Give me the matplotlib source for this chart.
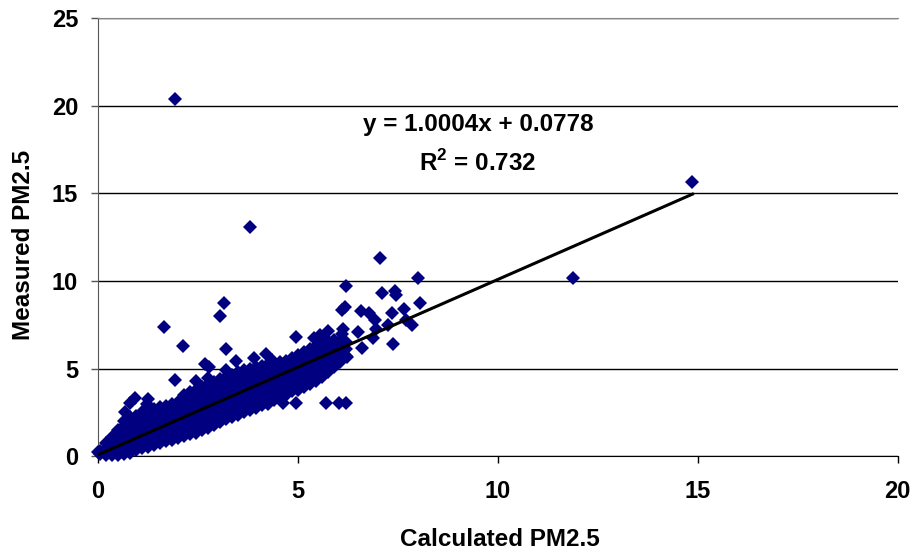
import numpy as np
import matplotlib.pyplot as plt

plt.rcParams['font.family'] = ['Liberation Sans', 'DejaVu Sans']
plt.rcParams['font.weight'] = 'bold'
plt.rcParams['mathtext.fontset'] = 'custom'
plt.rcParams['mathtext.rm'] = 'Liberation Sans:bold'
plt.rcParams['mathtext.bf'] = 'Liberation Sans:bold'

# =============================================================================
# DATOS
# =============================================================================

# nube principal: columnas de x con sus valores de y
band = [
    (0.05, [0.15, 0.3]),
    (0.2, [0.05, 0.4, 0.75]),
    (0.35, [0.1, 0.45, 0.85, 1.1]),
    (0.5, [0.05, 0.4, 0.8, 1.2, 1.5]),
    (0.65, [0.15, 0.5, 0.9, 1.3, 1.7, 2.0]),
    (0.8, [0.2, 0.6, 1.0, 1.4, 1.8, 2.25]),
    (0.95, [0.35, 0.75, 1.1, 1.5, 1.9, 2.3]),
    (1.1, [0.5, 0.9, 1.3, 1.7, 2.1, 2.5]),
    (1.25, [0.55, 0.95, 1.35, 1.75, 2.15, 2.6]),
    (1.4, [0.65, 1.05, 1.45, 1.85, 2.25, 2.7]),
    (1.55, [0.75, 1.15, 1.55, 1.95, 2.35, 2.8]),
    (1.7, [0.85, 1.25, 1.65, 2.05, 2.45, 2.85]),
    (1.85, [0.95, 1.35, 1.75, 2.15, 2.55, 3.0]),
    (2.0, [1.05, 1.45, 1.85, 2.25, 2.65, 3.1]),
    (2.15, [1.15, 1.55, 1.95, 2.35, 2.75, 3.15, 3.5]),
    (2.3, [1.25, 1.65, 2.05, 2.45, 2.85, 3.25, 3.65]),
    (2.45, [1.35, 1.75, 2.15, 2.55, 2.95, 3.35, 3.8, 4.3]),
    (2.6, [1.5, 1.9, 2.3, 2.7, 3.1, 3.5, 3.95]),
    (2.75, [1.6, 2.0, 2.4, 2.8, 3.2, 3.6, 4.1, 4.45]),
    (2.9, [1.8, 2.2, 2.6, 3.0, 3.4, 3.8, 4.25]),
    (3.05, [1.95, 2.35, 2.75, 3.15, 3.55, 3.95, 4.4]),
    (3.2, [2.1, 2.5, 2.9, 3.3, 3.7, 4.1, 4.5, 4.9]),
    (3.35, [2.25, 2.65, 3.05, 3.45, 3.85, 4.25, 4.65]),
    (3.5, [2.4, 2.8, 3.2, 3.6, 4.0, 4.4, 4.8]),
    (3.65, [2.5, 2.9, 3.3, 3.7, 4.1, 4.5, 4.9]),
    (3.8, [2.65, 3.05, 3.45, 3.85, 4.25, 4.65, 5.0]),
    (3.95, [2.75, 3.15, 3.55, 3.95, 4.35, 4.75, 5.1]),
    (4.1, [2.9, 3.3, 3.7, 4.1, 4.5, 4.9, 5.15]),
    (4.25, [3.0, 3.4, 3.8, 4.2, 4.6, 5.0, 5.25]),
    (4.4, [3.2, 3.6, 4.0, 4.4, 4.8, 5.2]),
    (4.55, [3.35, 3.75, 4.15, 4.55, 4.95, 5.35]),
    (4.7, [3.5, 3.9, 4.3, 4.7, 5.1, 5.45]),
    (4.85, [3.7, 4.1, 4.5, 4.9, 5.3, 5.6]),
    (5.0, [3.8, 4.2, 4.6, 5.0, 5.4, 5.8]),
    (5.15, [3.95, 4.35, 4.75, 5.15, 5.55, 5.95]),
    (5.3, [4.1, 4.5, 4.9, 5.3, 5.7, 6.1]),
    (5.45, [4.3, 4.7, 5.1, 5.5, 5.9, 6.3]),
    (5.6, [4.5, 4.9, 5.3, 5.7, 6.1, 6.5]),
    (5.75, [4.8, 5.2, 5.6, 6.0, 6.4]),
    (5.9, [5.1, 5.5, 5.9, 6.3, 6.65]),
    (6.05, [5.4, 5.8, 6.2, 6.6]),
    (6.2, [5.7, 6.1, 6.5]),
]

# puntos sueltos
out_x = [0.0, 0.93, 1.27, 0.68, 0.81, 1.24, 1.93, 2.14, 1.67, 1.93, 3.81,
         2.68, 2.79, 3.21, 3.06, 3.15, 3.47, 3.91, 4.22, 4.85, 4.35,
         4.96, 5.77, 6.14, 6.1, 6.52, 6.97, 7.27, 7.39, 6.89, 6.62, 6.24, 5.89,
         6.1, 6.19, 6.58, 6.79, 6.93, 7.36, 7.66, 7.7, 7.87,
         6.2, 7.1, 7.43, 7.45, 8.06, 7.06, 8.02, 11.89, 14.87,
         4.14, 4.64, 4.97, 5.7, 6.04, 6.2, 3.22, 3.52, 5.46, 5.06,
         5.6, 5.4, 5.55, 5.47, 5.65, 5.7]
out_y = [0.25, 3.31, 3.26, 2.55, 3.06, 3.0, 4.36, 6.29, 7.35, 20.36, 13.1,
         5.26, 5.12, 6.11, 7.98, 8.76, 5.43, 5.6, 5.85, 5.56, 5.5,
         6.83, 7.12, 7.26, 7.0, 7.08, 7.24, 7.5, 6.4, 6.72, 6.17, 5.66, 5.69,
         8.34, 8.52, 8.3, 8.15, 7.79, 8.15, 8.41, 7.79, 7.47,
         9.73, 9.31, 9.41, 9.22, 8.76, 11.31, 10.17, 10.17, 15.63,
         3.05, 3.03, 3.03, 3.03, 3.03, 3.03, 2.17, 2.36, 4.36, 4.07,
         6.46, 6.75, 6.9, 6.17, 6.8, 5.9]

# recta de ajuste (de la ecuacion mostrada)
slope = 1.0004
intercept = 0.0778
r2 = 0.732

x = [bx for bx, ys in band for _ in ys] + out_x
y = [yy for _, ys in band for yy in ys] + out_y
x = np.array(x)
y = np.array(y)

# =============================================================================
# GRAFICA
# =============================================================================

fig = plt.figure(figsize=(9.13, 5.52), dpi=100)
ax = fig.add_axes([0.107, 0.1734, 0.8762, 0.794])

ax.plot(x, y, linestyle='none', marker='D', markersize=7.0,
        color='#000080', markeredgewidth=0, clip_on=False, zorder=3)

xl = np.array([x.min(), x.max()])
ax.plot(xl, slope * xl + intercept, color='black', lw=2.2, zorder=4)

ax.set_xlim(0, 20)
ax.set_ylim(0, 25)
ax.set_xticks([0, 5, 10, 15, 20])
ax.set_yticks([0, 5, 10, 15, 20, 25])

ax.yaxis.grid(True, color='black', lw=1)
ax.set_axisbelow(True)
ax.spines['right'].set_visible(False)
ax.spines['top'].set_color('#888888')
ax.spines['left'].set_color('#555555')
ax.spines['bottom'].set_color('black')

ax.tick_params(axis='both', direction='out', length=5, width=1,
               labelsize=17)
ax.tick_params(axis='x', pad=12)
ax.tick_params(axis='y', pad=9, color='#555555')
for lab in ax.get_xticklabels() + ax.get_yticklabels():
    lab.set_fontweight('bold')

ax.text(9.51, 18.93, 'y = 1.0004x + 0.0778', ha='center', va='center',
        fontsize=17.5, fontweight='bold')
ax.text(9.5, 16.76, r'R$^{\mathbf{2}}$ = ' + str(r2), ha='center', va='center',
        fontsize=17.5, fontweight='bold')

fig.text(500 / 913, 1 - 540 / 552, 'Calculated PM2.5', ha='center', va='center',
         fontsize=17.5, fontweight='bold')
fig.text(23 / 913, 1 - 245 / 552, 'Measured PM2.5', ha='center', va='center',
         rotation=90, fontsize=17.5, fontweight='bold')

fig.savefig('out.png', dpi=100)
